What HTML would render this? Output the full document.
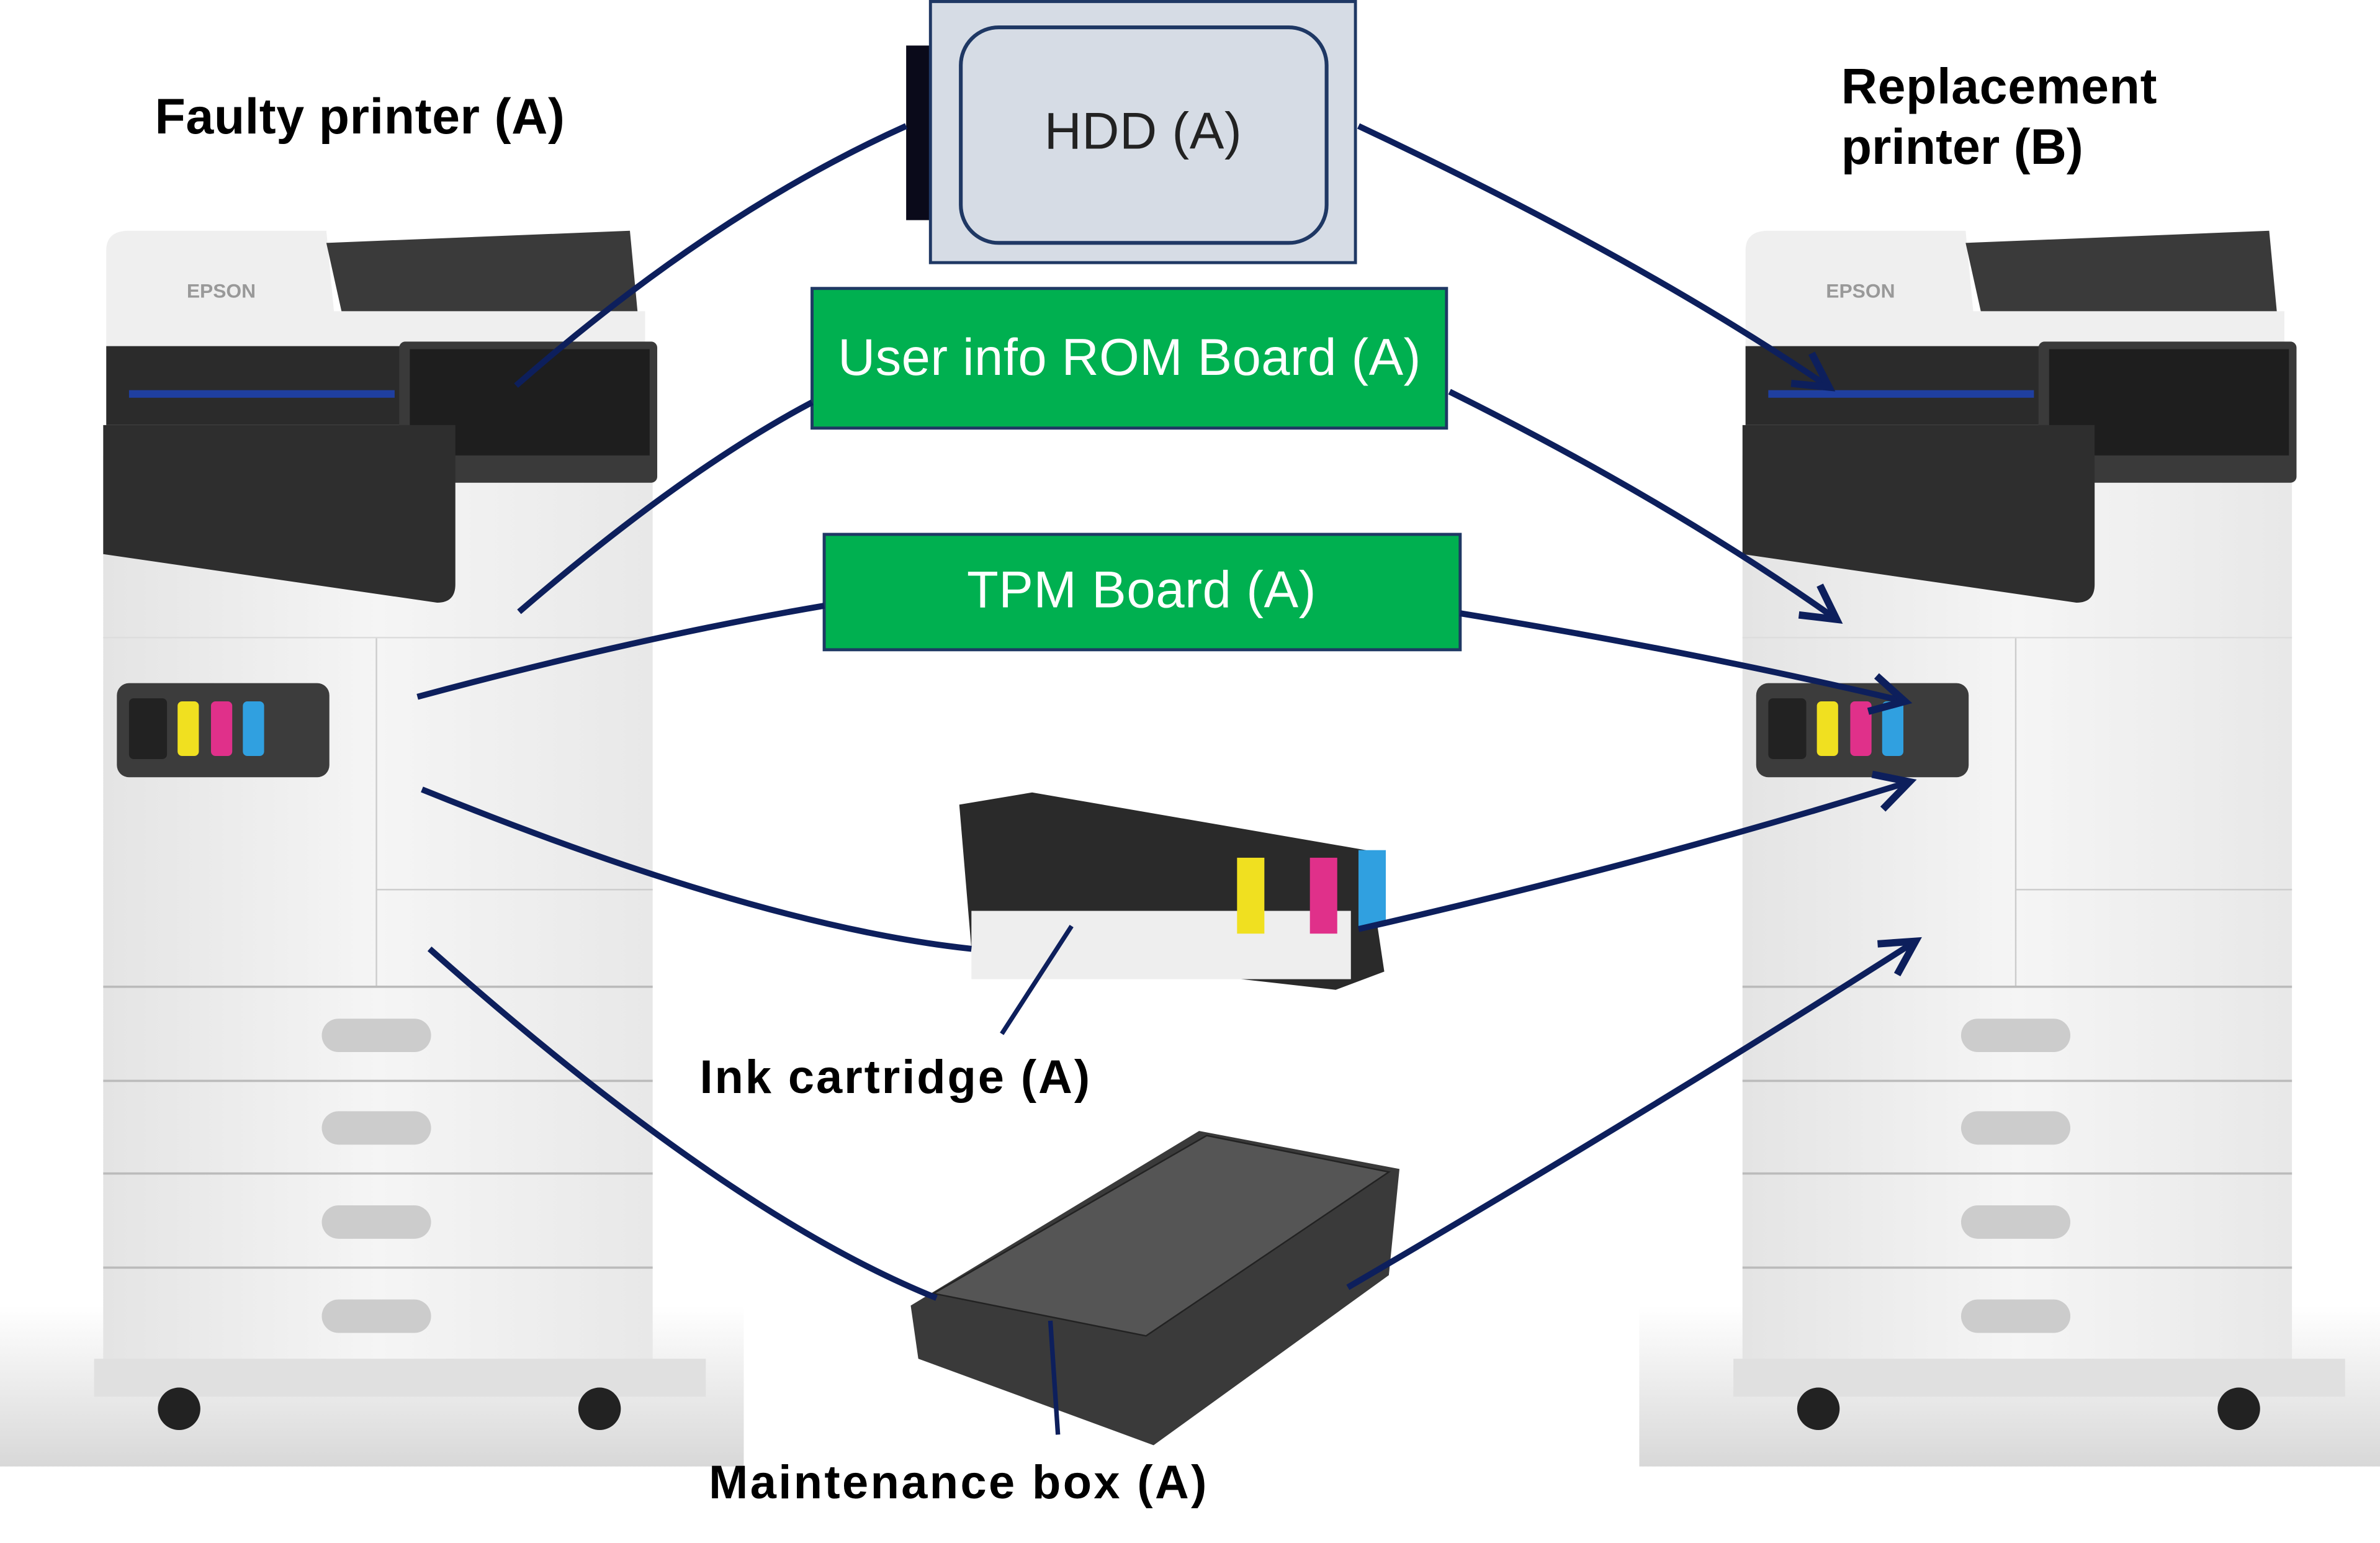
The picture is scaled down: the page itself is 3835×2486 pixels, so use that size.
<!DOCTYPE html>
<html><head><meta charset="utf-8"><style>
html,body{margin:0;padding:0;background:#fff;}
svg{display:block;}
text{font-family:"Liberation Sans",sans-serif;}
</style></head><body>
<svg width="3835" height="2486" viewBox="0 0 1568 1016.4" preserveAspectRatio="none" xmlns="http://www.w3.org/2000/svg">
<defs>
<linearGradient id="floor" x1="0" y1="0" x2="0" y2="1"><stop offset="0" stop-color="#fff"/><stop offset="1" stop-color="#d8d8d8"/></linearGradient>
<linearGradient id="body" x1="0" y1="0" x2="1" y2="0"><stop offset="0" stop-color="#e4e4e4"/><stop offset="0.5" stop-color="#f5f5f5"/><stop offset="1" stop-color="#e8e8e8"/></linearGradient>
<marker id="ar" markerWidth="8" markerHeight="8" refX="6.5" refY="4" orient="auto" markerUnits="strokeWidth"><path d="M1,1 L6.5,4 L1,7" fill="none" stroke="#0d1f5c" stroke-width="1.2"/></marker>
<g id="printer">
  <rect x="0" y="860" width="490" height="106" fill="url(#floor)"/>
  <rect x="68" y="300" width="362" height="600" fill="url(#body)"/>
  <path d="M70,230 L70,165 Q70,152 85,152 L215,152 L220,205 L425,205 L425,230 Z" fill="#efefef"/>
  <path d="M215,160 L415,152 L420,205 L225,205 Z" fill="#3a3a3a"/>
  <text x="123" y="196" font-size="13" fill="#999" font-weight="bold">EPSON</text>
  <rect x="70" y="228" width="195" height="52" fill="#2b2b2b"/>
  <rect x="85" y="257" width="175" height="5" fill="#1f3fa0"/>
  <rect x="263" y="225" width="170" height="93" rx="4" fill="#3a3a3a"/>
  <rect x="270" y="230" width="158" height="70" fill="#1e1e1e"/>
  <path d="M68,280 L300,280 L300,385 Q300,397 288,397 L68,365 Z" fill="#2e2e2e"/>
  <line x1="248" y1="420" x2="248" y2="650" stroke="#ccc"/>
  <line x1="68" y1="420" x2="430" y2="420" stroke="#ddd"/>
  <line x1="248" y1="586" x2="430" y2="586" stroke="#ccc"/>
  <rect x="77" y="450" width="140" height="62" rx="8" fill="#3c3c3c"/>
  <rect x="85" y="460" width="25" height="40" rx="3" fill="#222"/>
  <rect x="117" y="462" width="14" height="36" rx="3" fill="#f0e020"/>
  <rect x="139" y="462" width="14" height="36" rx="3" fill="#e0308a"/>
  <rect x="160" y="462" width="14" height="36" rx="3" fill="#30a0e0"/>
  <g stroke="#bbb" stroke-width="1.5">
    <line x1="68" y1="650" x2="430" y2="650"/><line x1="68" y1="712" x2="430" y2="712"/>
    <line x1="68" y1="773" x2="430" y2="773"/><line x1="68" y1="835" x2="430" y2="835"/>
  </g>
  <g fill="#ccc"><rect x="212" y="671" width="72" height="22" rx="11"/><rect x="212" y="732" width="72" height="22" rx="11"/><rect x="212" y="794" width="72" height="22" rx="11"/><rect x="212" y="856" width="72" height="22" rx="11"/></g>
  <rect x="62" y="895" width="403" height="25" fill="#e0e0e0"/>
  <circle cx="118" cy="928" r="14" fill="#222"/><circle cx="395" cy="928" r="14" fill="#222"/>
</g>
</defs>
<rect width="1568" height="1017" fill="#fff"/>
<use href="#printer"/>
<use href="#printer" x="1080"/>
<text x="102" y="88" font-size="33" font-weight="bold" fill="#000" textLength="270">Faulty printer (A)</text>
<text x="1213" y="68" font-size="33" font-weight="bold" fill="#000" textLength="208">Replacement</text>
<text x="1213" y="108" font-size="33" font-weight="bold" fill="#000">printer (B)</text>
<rect x="597" y="30" width="18" height="115" fill="#0a0a1a"/>
<rect x="613" y="1" width="280" height="172" fill="#d6dce5" stroke="#1f3864" stroke-width="2"/>
<rect x="633" y="18" width="241" height="142" rx="25" fill="#d6dce5" stroke="#1f3864" stroke-width="2.5"/>
<text x="753" y="98" font-size="34" fill="#222" text-anchor="middle" textLength="130">HDD (A)</text>
<rect x="535" y="190" width="418" height="92" fill="#00b050" stroke="#1f3864" stroke-width="2"/>
<text x="744" y="247" font-size="34" fill="#fff" text-anchor="middle" textLength="384">User info ROM Board (A)</text>
<rect x="543" y="352" width="419" height="76" fill="#00b050" stroke="#1f3864" stroke-width="2"/>
<text x="752" y="400" font-size="34" fill="#fff" text-anchor="middle" textLength="230">TPM Board (A)</text>
<!-- ink cartridges -->
<path d="M632,530 L680,522 L900,560 L912,640 L880,652 L640,625 Z" fill="#2a2a2a"/>
<rect x="640" y="600" width="250" height="45" fill="#eee"/>
<rect x="815" y="565" width="18" height="50" fill="#f0e020"/>
<rect x="863" y="565" width="18" height="50" fill="#e0308a"/>
<rect x="895" y="560" width="18" height="50" fill="#30a0e0"/>
<text x="461" y="720" font-size="31" font-weight="bold" fill="#000" textLength="257">Ink cartridge (A)</text>
<!-- maintenance box -->
<path d="M600,860 L790,745 L922,770 L915,840 L760,952 L605,895 Z" fill="#3a3a3a"/>
<path d="M615,852 L795,748 L915,772 L755,880 Z" fill="#555" stroke="#222"/>
<text x="467" y="987" font-size="31" font-weight="bold" fill="#000" textLength="328">Maintenance box (A)</text>
<g fill="none" stroke="#0d1f5c" stroke-width="4">
<path d="M340,254 Q470,140 597,83"/>
<path d="M895,83 Q1080,170 1205,255" marker-end="url(#ar)"/>
<path d="M342,403 Q450,310 535,265"/>
<path d="M955,258 Q1100,330 1210,408" marker-end="url(#ar)"/>
<path d="M275,459 Q420,420 543,399"/>
<path d="M962,404 Q1120,430 1255,462" marker-end="url(#ar)"/>
<path d="M278,520 Q500,610 640,625"/>
<path d="M895,612 Q1080,570 1258,515" marker-end="url(#ar)"/>
<path d="M283,625 Q480,800 617,855"/>
<path d="M888,848 Q1090,730 1262,620" marker-end="url(#ar)"/>
<path d="M660,681 L706,610" stroke-width="3"/>
<path d="M697,945 L692,870" stroke-width="3"/>
</g>
</svg>
</body></html>
